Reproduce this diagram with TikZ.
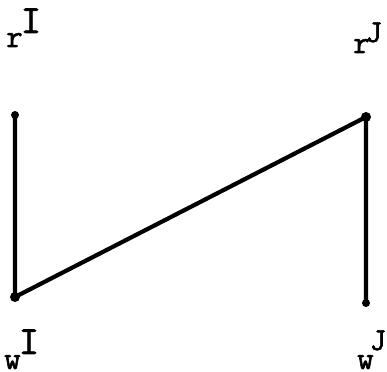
\documentclass[tikz,border=0pt]{standalone}
\usepackage{fontspec}
\newfontfamily\twfont[FakeBold=1.8]{Latin Modern Mono}
\begin{document}
\begin{tikzpicture}[x=1pt,y=1pt,
  seg/.style={line width=4.2pt,line cap=round,black},
  enddot/.style={circle,fill=black,inner sep=0pt,minimum size=8pt},
  joindot/.style={circle,fill=black,inner sep=0pt,minimum size=10pt},
  lbl/.style={inner sep=0pt,anchor=base west,font=\twfont\fontsize{32}{32}\selectfont}]
\newcommand{\supl}[4]{\kern#1\raisebox{#2}{\fontsize{#3}{#3}\selectfont #4}}
\useasboundingbox (0,0) rectangle (387,371);
\fill[white] (0,0) rectangle (387,371);
\node[enddot] (a) at (15,256) {};
\node[joindot] (b) at (15,74) {};
\node[joindot] (c) at (366,254) {};
\node[enddot] (d) at (366,68) {};
\draw[seg] (a.center) -- (b.center) -- (c.center) -- (d.center);
\node[lbl] (rI) at (6,324) {r\supl{-2pt}{14pt}{40}{I}};
\node[lbl] (rJ) at (353,318) {r\supl{-4pt}{11pt}{32}{J}};
\node[lbl] (wI) at (4,2) {w\supl{-2pt}{15pt}{40}{I}};
\node[lbl] (wJ) at (357,2) {w\supl{-4pt}{19pt}{32}{J}};
\end{tikzpicture}
\end{document}
